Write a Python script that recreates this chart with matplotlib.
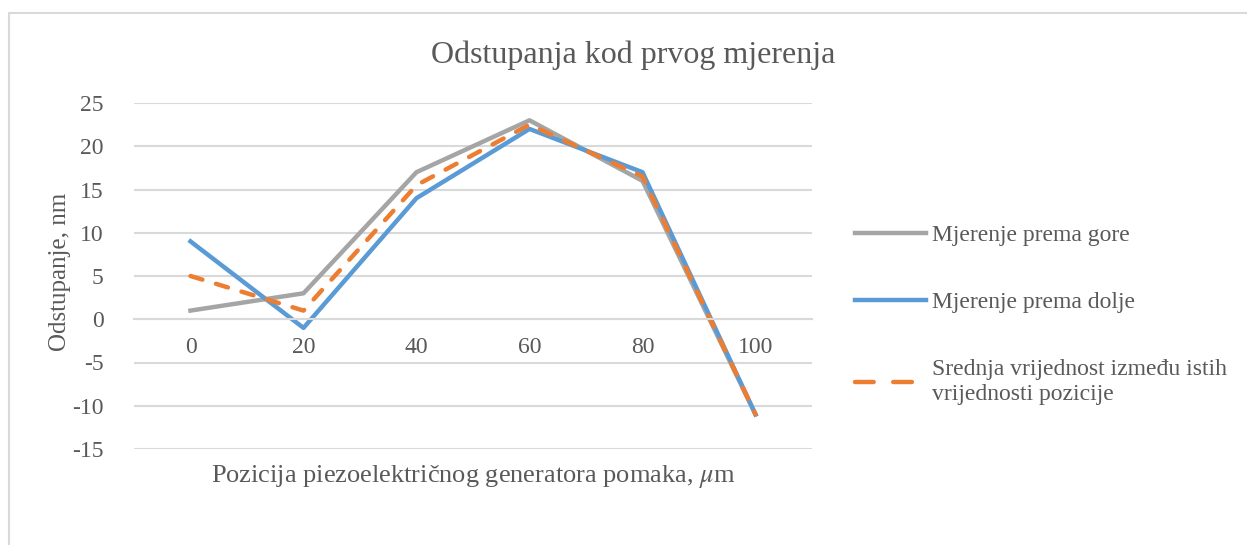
import matplotlib.pyplot as plt
from matplotlib.patches import Rectangle
from matplotlib.lines import Line2D

## Data
positions = ['0', '20', '40', '60', '80', '100']
up_values = [1, 3, 17, 23, 16, -11]        # Mjerenje prema gore
down_values = [9, -1, 14, 22, 17, -11]     # Mjerenje prema dolje
mean_values = [5, 1, 15.5, 22.5, 16.5, -11]  # Srednja vrijednost
y_ticks = [-15, -10, -5, 0, 5, 10, 15, 20, 25]

text_col = '#595959'
grid_col = '#d9d9d9'

plt.rcParams['font.family'] = ['Liberation Serif', 'DejaVu Serif']
plt.rcParams['mathtext.fontset'] = 'stix'
plt.rcParams['axes.unicode_minus'] = False

W, H = 1247, 545
fig = plt.figure(figsize=(W / 100, H / 100), dpi=100)

## Chart border (Excel style)
fig.add_artist(Rectangle((9 / W, -0.1), 1.2, 1 - 13 / H + 0.1, transform=fig.transFigure,
                         fill=False, edgecolor=grid_col, linewidth=1.5))

ax = fig.add_axes([134 / W, 1 - 449 / H, (812 - 134) / W, (449 - 103) / H])

x = range(len(positions))
l1, = ax.plot(x, up_values, color='#a5a5a5', linewidth=3.2, label='Mjerenje prema gore')
l2, = ax.plot(x, down_values, color='#5b9bd5', linewidth=3.2, label='Mjerenje prema dolje')
ax.plot(x, mean_values, color='#ed7d31', linewidth=3.2, linestyle=(0, (2.8, 3.2)),
        dash_capstyle='round')

ax.set_xlim(-0.5, 5.5)
ax.set_ylim(-15, 25)
ax.set_yticks(y_ticks)
ax.set_xticks(list(x))
ax.set_xticklabels(positions)
ax.grid(axis='y', color=grid_col, linewidth=1.5)
ax.set_axisbelow(True)
for side in ['top', 'right', 'left']:
    ax.spines[side].set_visible(False)
ax.spines['bottom'].set_position(('data', 0))
ax.spines['bottom'].set_color(grid_col)
ax.spines['bottom'].set_linewidth(1.5)
ax.tick_params(length=0, labelsize=17, labelcolor=text_col)
ax.tick_params(axis='y', pad=22)
ax.tick_params(axis='x', pad=13)

fig.text(633 / W, 1 - 55 / H, 'Odstupanja kod prvog mjerenja', ha='center', va='center',
         fontsize=23, color=text_col)
fig.text(60 / W, 1 - 272 / H, 'Odstupanje, nm', ha='center', va='center', rotation=90,
         fontsize=18, color=text_col)
fig.text(473 / W, 1 - 477 / H, r'Pozicija piezoelektričnog generatora pomaka, $\mu$m',
         ha='center', va='center', fontsize=19, color=text_col)

# legend handle for the dashed series uses longer dashes, like the reference
mean_handle = Line2D([], [], color='#ed7d31', linewidth=3.2, linestyle=(0, (4.2, 4.4)),
                     dash_capstyle='round')
fig.legend([l1, l2, mean_handle],
           ['Mjerenje prema gore', 'Mjerenje prema dolje',
            'Srednja vrijednost između istih\nvrijednosti pozicije'],
           loc='upper left', bbox_to_anchor=(834 / W, 1 - 203 / H), frameon=False,
           fontsize=17, labelcolor=text_col, handlelength=3.0, handletextpad=0.25,
           labelspacing=1.95)

fig.savefig('out.png', dpi=100)
